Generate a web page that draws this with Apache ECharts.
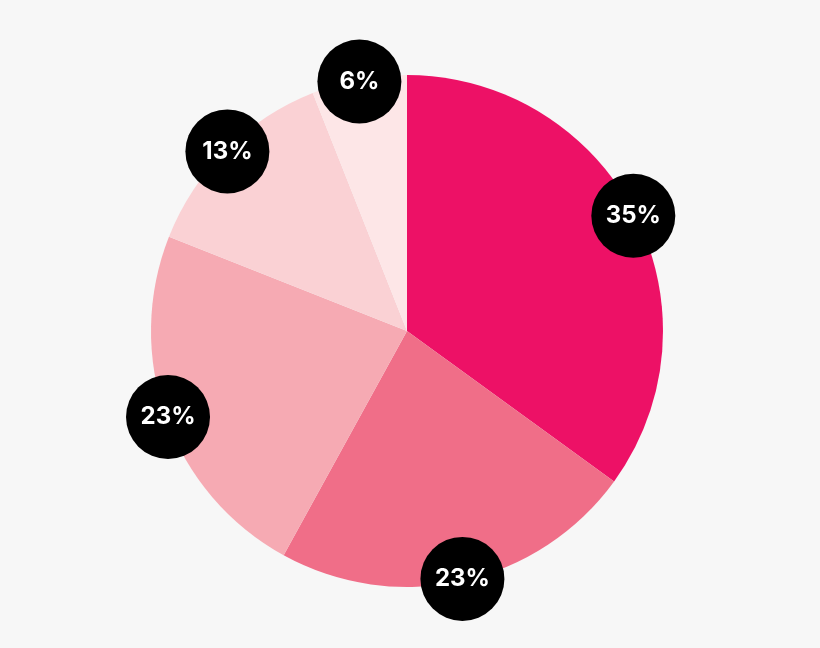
<!DOCTYPE html>
<html>
<head>
<meta charset="utf-8">
<script src="https://cdn.jsdelivr.net/npm/echarts@6/dist/echarts.min.js"></script>
<style>
  html, body { margin: 0; padding: 0; background: #f7f7f7; }
  #pieChart { width: 820px; height: 648px; }
</style>
</head>
<body>
<div id="pieChart"></div>
<script>
// slice shares, clockwise from 12 o'clock
const shares = [35, 23, 23, 13, 6];
const sliceColors = ['#ED1166', '#F06E88', '#F6AAB3', '#FAD1D4', '#FDE6E7'];

const pieData = shares.map((v, i) => ({ value: v, itemStyle: { color: sliceColors[i] } }));

var pieChart = echarts.init(document.getElementById('pieChart'));
pieChart.setOption({
  backgroundColor: '#f7f7f7',
  animation: false,
  series: [
    { // the pie itself
      type: 'pie',
      center: [407, 331],
      radius: [0, 256],
      startAngle: 90,
      clockwise: true,
      label: { show: false },
      labelLine: { show: false },
      data: pieData
    },
    { // black badges sitting on the rim
      type: 'pie',
      center: [407, 331],
      radius: [238, 264],
      startAngle: 90,
      clockwise: true,
      silent: true,
      itemStyle: { color: 'transparent' },
      label: {
        show: true,
        position: 'inside',
        formatter: p => p.value + '%',
        color: '#fff',
        fontSize: 24,
        fontWeight: 'bold',
        fontFamily: 'Inter, sans-serif',
        backgroundColor: '#000',
        width: 84,
        height: 84,
        lineHeight: 84,
        borderRadius: 42,
        align: 'center'
      },
      labelLine: { show: false },
      data: shares.map(v => ({ value: v }))
    }
  ]
});
</script>
</body>
</html>
